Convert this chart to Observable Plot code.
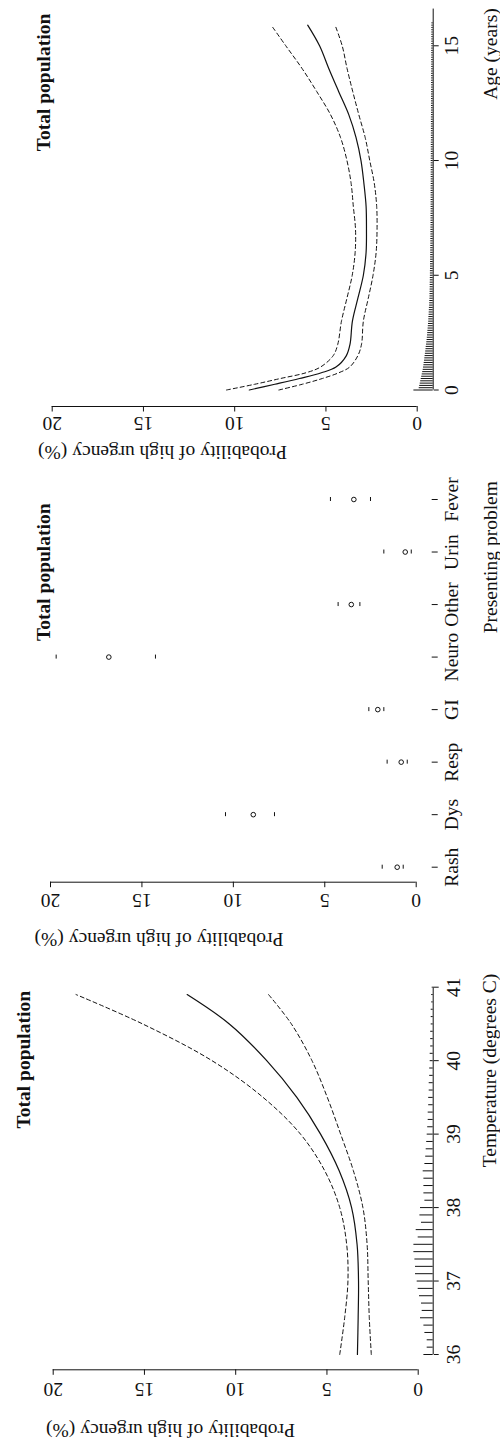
<!DOCTYPE html>
<html>
<head>
<meta charset="utf-8">
<script src="https://cdn.jsdelivr.net/npm/d3@7"></script>
<script src="https://cdn.jsdelivr.net/npm/@observablehq/plot@0.6"></script>
<style>
  html, body { margin: 0; padding: 0; background: #fff; }
  #chart { width: 500px; height: 1447px; overflow: hidden; }
  #chart svg { display: block; }
</style>
</head>
<body>
<div id="chart"></div>
<script>
// ---------------- shared ----------------
const panelTitle = "Total population";
const probLabel = "Probability of high urgency (%)";
const probTicks = [0, 5, 10, 15, 20];

// ---------------- panel: temperature ----------------
const tempLabel = "Temperature (degrees C)";
const tempTicks = [36, 37, 38, 39, 40, 41];
const tempX     = [36.0, 36.5, 37.0, 37.5, 38.0, 38.5, 39.0, 39.5, 40.0, 40.5, 40.9];
const tempFit   = [3.33, 3.29, 3.27, 3.35, 3.65, 4.33, 5.35, 6.65, 8.30, 10.35, 12.66];
const tempUpper = [4.30, 4.03, 3.85, 3.92, 4.30, 5.12, 6.45, 8.50, 11.30, 15.10, 18.75];
const tempLower = [2.57, 2.68, 2.74, 2.80, 3.03, 3.55, 4.25, 4.98, 5.82, 6.95, 8.20];
const tempRugX = [36.0,36.1,36.2,36.3,36.4,36.5,36.6,36.7,36.8,36.9,
                  37.0,37.1,37.2,37.3,37.4,37.5,37.6,37.7,37.8,37.9,
                  38.0,38.1,38.2,38.3,38.4,38.5,38.6,38.7,38.8,38.9,
                  39.0,39.1,39.2,39.3,39.4,39.5,39.6,39.7,39.8,39.9,
                  40.0,40.1,40.2,40.3,40.4,40.5,40.6,40.7,40.8,40.9,
                  41.0];
const tempRugFreq = [9.3,6,6,8.3,9.3,12.7,11,11.7,13.7,15,
                     16,17.7,17.7,18.3,19.3,19.3,15,17,11.7,13.3,
                     12.7,8.3,9.3,9.3,9.3,10,8.3,7.5,7,6.5,
                     6,5.5,5,5,4.5,4.5,4,4,3.5,3.5,
                     3,3,2.5,2.5,2.5,2,2,2,1.5,1.5,
                     1];

// ---------------- panel: presenting problem ----------------
const problemLabel = "Presenting problem";
const problems    = ["Rash", "Dys", "Resp", "GI", "Neuro", "Other", "Urin", "Fever"];
const problemEst  = [1.04, 8.91, 0.82, 2.10, 16.81, 3.55, 0.60, 3.41];
const problemLow  = [0.71, 7.75, 0.49, 1.77, 14.26, 3.08, 0.27, 2.50];
const problemHigh = [1.86, 10.43, 1.59, 2.59, 19.69, 4.27, 1.77, 4.69];

// ---------------- panel: age ----------------
const ageLabel = "Age (years)";
const ageTicks = [0, 5, 10, 15];
const ageAxisMax = 16.6;
const ageX     = [0, 0.25, 0.5, 0.75, 1, 1.5, 2, 3, 4, 5, 6, 7, 8, 9, 10, 11, 12, 13, 14, 15, 15.9];
const ageFit   = [9.20, 7.80, 6.45, 5.25, 4.45, 3.88, 3.68, 3.55, 3.25, 2.95, 2.80, 2.78, 2.80, 2.92, 3.08, 3.35, 3.75, 4.30, 4.84, 5.35, 6.00];
const ageUpper = [10.45, 8.90, 7.50, 6.10, 5.30, 4.60, 4.35, 4.15, 3.85, 3.56, 3.40, 3.38, 3.50, 3.62, 3.85, 4.20, 4.75, 5.50, 6.30, 7.20, 8.00];
const ageLower = [7.58, 6.30, 5.20, 4.30, 3.70, 3.25, 3.05, 2.95, 2.68, 2.42, 2.25, 2.20, 2.22, 2.35, 2.60, 2.85, 3.20, 3.53, 3.84, 4.11, 4.50];
const ageRugX = [0,0.1,0.2,0.3,0.4,0.5,0.6,0.7,0.8,0.9,
                 1,1.1,1.2,1.3,1.4,1.5,1.6,1.7,1.8,1.9,
                 2,2.1,2.2,2.3,2.4,2.5,2.6,2.7,2.8,2.9,
                 3,3.1,3.2,3.3,3.4,3.5,3.6,3.7,3.8,3.9,
                 4,4.1,4.2,4.3,4.4,4.5,4.6,4.7,4.8,4.9,
                 5,5.1,5.2,5.3,5.4,5.5,5.6,5.7,5.8,5.9,
                 6,6.1,6.2,6.3,6.4,6.5,6.6,6.7,6.8,6.9,
                 7,7.1,7.2,7.3,7.4,7.5,7.6,7.7,7.8,7.9,
                 8,8.1,8.2,8.3,8.4,8.5,8.6,8.7,8.8,8.9,
                 9,9.1,9.2,9.3,9.4,9.5,9.6,9.7,9.8,9.9,
                 10,10.1,10.2,10.3,10.4,10.5,10.6,10.7,10.8,10.9,
                 11,11.1,11.2,11.3,11.4,11.5,11.6,11.7,11.8,11.9,
                 12,12.1,12.2,12.3,12.4,12.5,12.6,12.7,12.8,12.9,
                 13,13.1,13.2,13.3,13.4,13.5,13.6,13.7,13.8,13.9,
                 14,14.1,14.2,14.3,14.4,14.5,14.6,14.7,14.8,14.9,
                 15,15.1,15.2,15.3,15.4,15.5,15.6,15.7,15.8,15.9,
                 16];
const ageRugFreq = [19.3,14,13.5,13,12.5,12,11.5,11,10.5,10,
                    9.7,9.3,9,8.7,8.4,8.1,7.8,7.5,7.2,7,
                    6.7,6.4,6.1,5.9,5.7,5.5,5.3,5.1,4.9,4.7,
                    4.5,4.4,4.3,4.1,4,3.9,3.8,3.6,3.5,3.4,
                    3.3,3.2,3.2,3.1,3.1,3,3,3,2.9,2.9,
                    2.8,2.8,2.8,2.7,2.7,2.7,2.6,2.6,2.6,2.5,
                    2.5,2.5,2.5,2.4,2.4,2.4,2.4,2.3,2.3,2.3,
                    2.3,2.3,2.2,2.2,2.2,2.2,2.2,2.2,2.1,2.1,
                    2.1,2.1,2.1,2.1,2.1,2.1,2.1,2.1,2.1,2.1,
                    2,2,2,2,2,2,2,2,2,2,
                    2,2,1.9,1.9,1.9,1.9,1.9,1.9,1.9,1.8,
                    1.8,1.8,1.8,1.8,1.8,1.8,1.8,1.8,1.8,1.8,
                    1.7,1.7,1.7,1.7,1.7,1.7,1.7,1.7,1.7,1.7,
                    1.6,1.6,1.6,1.6,1.6,1.6,1.6,1.6,1.6,1.6,
                    1.5,1.5,1.5,1.5,1.5,1.5,1.5,1.5,1.5,1.5,
                    1.4,1.4,1.4,1.4,1.4,1.4,1.4,1.4,1.4,1.4,
                    1.3];

// ---------------- drawing ----------------
const FONT = "'Liberation Serif', 'Times New Roman', serif";
const INK = "#111";
const RUG_UNIT = 1 / 18.25;   // rug frequency units -> probability-axis units
const DASH = "4,3";
const CURVE = "catmull-rom";

function curveRows(xs, fit, lo, hi) {
  return xs.map((v, i) => ({v, fit: fit[i], lo: lo[i], hi: hi[i]}));
}

function labelText(str, x, y, rotate, extra = {}) {
  return Plot.text([str], {frameAnchor: "top-left", dx: x, dy: y, rotate,
    textAnchor: "middle", lineAnchor: "middle", fill: INK, ...extra});
}

function curveMarks(rows) {
  return [
    Plot.line(rows, {x: "fit", y: "v", curve: CURVE, stroke: INK, strokeWidth: 1.2}),
    Plot.line(rows, {x: "hi", y: "v", curve: CURVE, stroke: INK, strokeWidth: 1, strokeDasharray: DASH}),
    Plot.line(rows, {x: "lo", y: "v", curve: CURVE, stroke: INK, strokeWidth: 1, strokeDasharray: DASH})
  ];
}

function panel(cfg) {
  const W = 500;
  const yDom = cfg.y.domain;
  const yBasePx = cfg.y.range[0];
  const offX = cfg.lineX - cfg.xZero;
  const offY = cfg.lineY - yBasePx;
  return Plot.plot({
    width: W, height: cfg.H,
    marginTop: 0, marginLeft: 0,
    marginRight: W - cfg.lineX, marginBottom: cfg.H - cfg.lineY,
    style: {fontFamily: FONT, fontSize: "19.5px", color: INK, background: "#fff", overflow: "visible"},
    x: {domain: [0, 20], range: [cfg.xZero, cfg.xTwenty]},
    y: cfg.y,
    marks: [
      // probability axis (horizontal on the page)
      Plot.ruleY([yDom[0]], {x1: probTicks[0], x2: probTicks[probTicks.length - 1], dy: offY, stroke: INK}),
      Plot.axisX({anchor: "bottom", ticks: probTicks, tickSize: 5.5, tickPadding: cfg.probPad,
        tickFormat: "d", tickRotate: 180, textAnchor: "middle", lineAnchor: "middle", label: null}),
      // second axis (vertical on the page)
      Plot.ruleX([0], {y1: yDom[0], y2: yDom[yDom.length - 1], dx: offX, stroke: INK}),
      Plot.axisY({anchor: "right", ticks: cfg.yTicks, tickSize: cfg.yTickSize, tickPadding: cfg.yPad,
        tickFormat: cfg.yFormat, tickRotate: -90, textAnchor: "middle", lineAnchor: "middle", label: null}),
      // data
      ...cfg.marks(offX),
      // texts
      labelText(panelTitle, cfg.title[0], cfg.title[1], -90, {fontWeight: "bold"}),
      labelText(probLabel, cfg.probLab[0], cfg.probLab[1], 180),
      labelText(cfg.axisLabel, cfg.axisLab[0], cfg.axisLab[1], -90)
    ]
  });
}

const root = document.getElementById("chart");

// Age panel (top)
const ageRows = curveRows(ageX, ageFit, ageLower, ageUpper);
const ageRug = ageRugX.map((v, i) => ({v, f: ageRugFreq[i]}));
root.append(panel({
  H: 465, xZero: 416.7, xTwenty: 51.7, lineX: 432.7, lineY: 406,
  y: {domain: [0, ageAxisMax], range: [389.5, 389.5 - ageAxisMax * 22.947]},
  yTicks: ageTicks, yFormat: "d", yTickSize: 5, yPad: 13.3, probPad: 10.8,
  title: [43.5, 82], probLab: [162, 451.7], axisLabel: ageLabel, axisLab: [490, 53.5],
  marks: (offX) => [
    Plot.ruleY(ageRug, {y: "v", x1: 0, x2: d => d.f * RUG_UNIT, dx: offX, stroke: INK, strokeWidth: 1}),
    ...curveMarks(ageRows)
  ]
}));

// Presenting problem panel (middle)
const probRows = problems.map((c, i) => ({c, est: problemEst[i], lo: problemLow[i], hi: problemHigh[i]}));
root.append(panel({
  H: 490, xZero: 415.7, xTwenty: 50, lineX: 430.7, lineY: 416.7,
  y: {type: "point", domain: problems, range: [401.7, 34], padding: 0, round: false},
  yTicks: undefined, yFormat: undefined, yTickSize: 6, yPad: 14.3, probPad: 12.8,
  title: [43.5, 106.7], probLab: [158.5, 473.3], axisLabel: problemLabel, axisLab: [490, 91.7],
  marks: () => [
    Plot.dot(probRows, {x: "est", y: "c", r: 2.3, stroke: INK, strokeWidth: 1, fill: "none"}),
    Plot.ruleX(probRows, {x: "lo", y1: "c", y2: "c", insetTop: -2, insetBottom: -2, stroke: INK, strokeWidth: 1}),
    Plot.ruleX(probRows, {x: "hi", y1: "c", y2: "c", insetTop: -2, insetBottom: -2, stroke: INK, strokeWidth: 1})
  ]
}));

// Temperature panel (bottom)
const tempRows = curveRows(tempX, tempFit, tempLower, tempUpper);
const tempRug = tempRugX.map((v, i) => ({v, f: tempRugFreq[i]}));
root.append(panel({
  H: 492, xZero: 417.7, xTwenty: 52.7, lineX: 432.7, lineY: 414.3,
  y: {domain: [36, 41], range: [399, 31.7]},
  yTicks: tempTicks, yFormat: "d", yTickSize: 5, yPad: 15.6, probPad: 13.9,
  title: [23.5, 104.2], probLab: [170, 475], axisLabel: tempLabel, axisLab: [489.5, 115],
  marks: (offX) => [
    Plot.ruleY(tempRug, {y: "v", x1: 0, x2: d => d.f * RUG_UNIT, dx: offX, stroke: INK, strokeWidth: 1}),
    ...curveMarks(tempRows)
  ]
}));
</script>
</body>
</html>
